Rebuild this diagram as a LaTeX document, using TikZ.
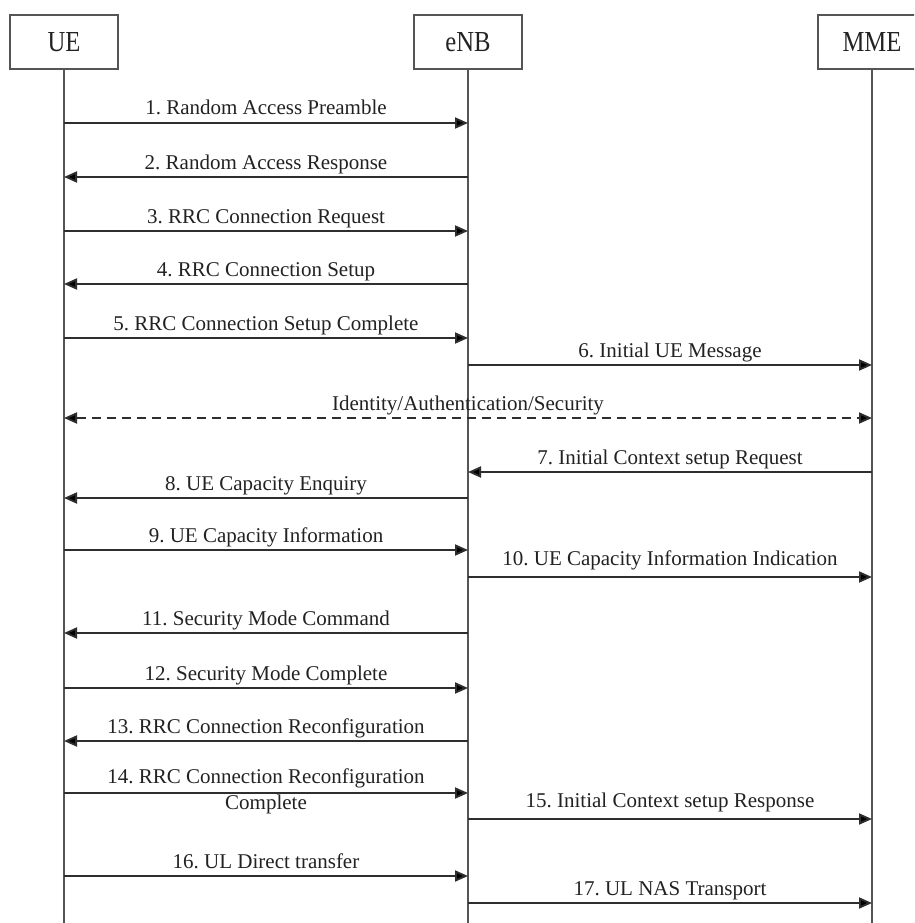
\documentclass[tikz,border=0pt]{standalone}
\usepackage{fontspec}
\setmainfont{Liberation Serif}
\newfontfamily\boxfont[FakeStretch=0.85]{Liberation Serif}
\usetikzlibrary{arrows.meta}
\frenchspacing
\definecolor{linec}{HTML}{2E2E2E}
\definecolor{lifec}{HTML}{555555}
\definecolor{textc}{HTML}{222222}
\tikzset{
  entity/.style={draw=lifec, line width=1.6pt, fill=white, minimum width=108pt, minimum height=54pt,
    inner sep=0pt, text=textc, font=\boxfont\fontsize{29}{32}\selectfont},
  life/.style={draw=lifec, line width=1.5pt},
  msg/.style={draw=linec, line width=1.9pt, -{Triangle[length=13pt,width=11pt,fill=black]}},
  dmsg/.style={draw=linec, line width=1.9pt, dash pattern=on 9pt off 6pt,
    {Triangle[length=13pt,width=11pt,fill=black]}-{Triangle[length=13pt,width=11pt,fill=black]}},
  lbl/.style={midway, anchor=base, yshift=8pt, inner sep=0pt, text=textc,
    font=\fontsize{21}{25}\selectfont\frenchspacing},
  lblhi/.style={lbl, yshift=3.5pt},
  lbllow/.style={lbl, yshift=-24.3pt},
}
\begin{document}
\begin{tikzpicture}[x=1pt, y=-1pt]
\useasboundingbox (0,0) rectangle (914,923);
\clip (0,0) rectangle (914,923);
\fill[white] (0,0) rectangle (914,923);
% entities
\node[entity] (ue)  at (64,42)  {UE};
\node[entity] (enb) at (468,42) {eNB};
\node[entity] (mme) at (872,42) {MME};
\coordinate (ueEnd)  at (64,923);
\coordinate (enbEnd) at (468,923);
\coordinate (mmeEnd) at (872,923);
\draw[life] (ue.south) -- (ueEnd);
\draw[life] (enb.south) -- (enbEnd);
\draw[life] (mme.south) -- (mmeEnd);
% message points on lifelines
\foreach \i/\y in {1/123,2/177,3/231,4/284,5/338,6/365,d/418,7/472,8/498,9/550,10/577,11/633,12/688,13/741,14/793,15/819,16/876,17/903}{
  \coordinate (u\i) at (64,\y);
  \coordinate (e\i) at (468,\y);
  \coordinate (m\i) at (872,\y);
}
\draw[msg] (u1) -- node[lbl]{1. Random Access Preamble} (e1);
\draw[msg] (e2) -- node[lbl]{2. Random Access Response} (u2);
\draw[msg] (u3) -- node[lbl]{3. RRC Connection Request} (e3);
\draw[msg] (e4) -- node[lbl]{4. RRC Connection Setup} (u4);
\draw[msg] (u5) -- node[lbl]{5. RRC Connection Setup Complete} (e5);
\draw[msg] (e6) -- node[lbl]{6. Initial UE Message} (m6);
\draw[dmsg] (ud) -- node[lbl]{Identity/Authentication/Security} (md);
\draw[msg] (m7) -- node[lbl]{7. Initial Context setup Request} (e7);
\draw[msg] (e8) -- node[lbl]{8. UE Capacity Enquiry} (u8);
\draw[msg] (u9) -- node[lbl]{9. UE Capacity Information} (e9);
\draw[msg] (e10) -- node[lblhi]{10. UE Capacity Information Indication} (m10);
\draw[msg] (e11) -- node[lbl]{11. Security Mode Command} (u11);
\draw[msg] (u12) -- node[lbl]{12. Security Mode Complete} (e12);
\draw[msg] (e13) -- node[lbl]{13. RRC Connection Reconfiguration} (u13);
\draw[msg] (u14) -- node[lbl, yshift=1.7pt]{14. RRC Connection Reconfiguration} node[lbllow]{Complete} (e14);
\draw[msg] (e15) -- node[lblhi]{15. Initial Context setup Response} (m15);
\draw[msg] (u16) -- node[lbl]{16. UL Direct transfer} (e16);
\draw[msg] (e17) -- node[lbl]{17. UL NAS Transport} (m17);
\end{tikzpicture}
\end{document}
